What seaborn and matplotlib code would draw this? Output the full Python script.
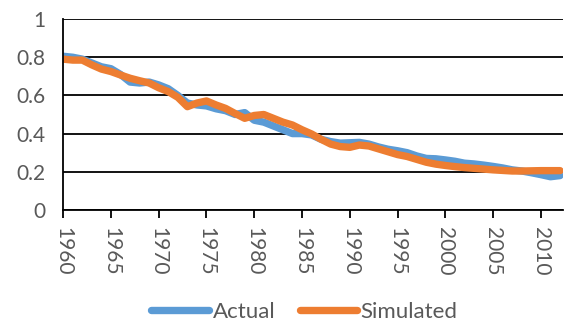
import matplotlib
matplotlib.use("Agg")
import matplotlib.pyplot as plt
import seaborn as sns
import pandas as pd

# Yearly values
years = list(range(1960, 2013))
actual = [0.805, 0.80, 0.79, 0.77, 0.75, 0.74, 0.71, 0.67, 0.665, 0.67,
          0.655, 0.635, 0.60, 0.56, 0.55, 0.545, 0.53, 0.52, 0.50, 0.51,
          0.47, 0.46, 0.44, 0.42, 0.40, 0.40, 0.393, 0.37, 0.358, 0.35,
          0.352, 0.354, 0.345, 0.33, 0.318, 0.31, 0.30, 0.283, 0.27, 0.268,
          0.262, 0.255, 0.245, 0.241, 0.235, 0.228, 0.22, 0.21, 0.204, 0.195,
          0.185, 0.174, 0.18]
simulated = [0.79, 0.785, 0.785, 0.76, 0.738, 0.725, 0.707, 0.69, 0.677, 0.665,
             0.64, 0.62, 0.59, 0.541, 0.56, 0.571, 0.55, 0.532, 0.505, 0.48,
             0.495, 0.50, 0.48, 0.46, 0.445, 0.42, 0.398, 0.37, 0.345, 0.332,
             0.328, 0.34, 0.335, 0.32, 0.305, 0.29, 0.28, 0.265, 0.25, 0.24,
             0.233, 0.227, 0.222, 0.218, 0.214, 0.21, 0.207, 0.204, 0.204, 0.205,
             0.206, 0.206, 0.206]
series_names = ["Actual", "Simulated"]
xtick_years = list(range(1960, 2011, 5))
ytick_vals = [0, 0.2, 0.4, 0.6, 0.8, 1]

df = pd.DataFrame({"Year": years * 2,
                   "Value": actual + simulated,
                   "Series": [series_names[0]] * len(years) + [series_names[1]] * len(years)})

sns.set_style("white")
plt.rcParams['font.family'] = ['Lato', 'DejaVu Sans']

fig = plt.figure(figsize=(5.64, 3.23), dpi=100)
ax = fig.add_axes([0.112, 0.35, 0.886, 0.591])

sns.lineplot(data=df, x="Year", y="Value", hue="Series",
             palette=["#5B9BD5", "#ED7D31"], linewidth=5.3, ax=ax)

ax.set_xlim(1960, 2012.3)
ax.set_ylim(0, 1)
ax.set_yticks(ytick_vals)
ax.set_yticklabels(["0", "0.2", "0.4", "0.6", "0.8", "1"])
ax.set_xticks(xtick_years)
ax.set_xticklabels([str(y) for y in xtick_years], rotation=270)
ax.grid(True, axis='y', color='black', linewidth=1.3)
ax.set_axisbelow(True)
for side in ["top", "right"]:
    ax.spines[side].set_visible(False)
ax.spines["left"].set_color("black")
ax.spines["bottom"].set_color("black")
ax.spines["left"].set_linewidth(1.3)
ax.spines["bottom"].set_linewidth(1.3)
ax.tick_params(axis='x', bottom=True, direction='out', length=6, width=1.3,
               color='black', labelcolor='#595959', labelsize=15, pad=6)
ax.tick_params(axis='y', left=False, labelcolor='#595959', labelsize=15, pad=9)
ax.set_xlabel("")
ax.set_ylabel("")

handles, labels = ax.get_legend_handles_labels()
ax.get_legend().remove()
leg = fig.legend(handles, labels, loc='center', bbox_to_anchor=(0.54, 0.034), ncol=2,
                 frameon=False, fontsize=16, handlelength=2.6, handletextpad=0.15,
                 columnspacing=1.1, labelcolor='#595959', borderpad=0)
for line in leg.get_lines():
    line.set_solid_capstyle('round')
    line.set_linewidth(5.3)

fig.savefig("out.png", dpi=100)
